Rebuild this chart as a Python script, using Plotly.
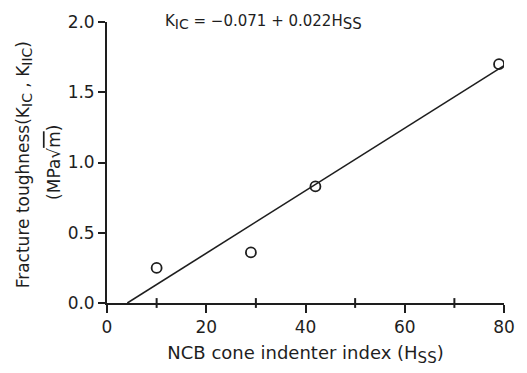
import plotly.graph_objects as go

# data
hss = [10, 29, 42, 79]
kic = [0.25, 0.36, 0.83, 1.70]
fit_x = [4.1, 80]
fit_y = [0.0, 1.69]

x_tickvals = [0, 20, 40, 60, 80]
x_minorvals = [10, 30, 50, 70]
y_ticklabels = ["0.0", "0.5", "1.0", "1.5", "2.0"]
y_tickvals = [0.0, 0.5, 1.0, 1.5, 2.0]

FONT = "DejaVu Sans, sans-serif"
INK = "#1e1e1e"

def sub(t, size):
    return "<sub><span style='font-size:%dpx'>%s</span></sub>" % (size, t)

fig = go.Figure()
fig.add_trace(go.Scatter(x=fit_x, y=fit_y, mode="lines",
                         line=dict(color=INK, width=1.6), showlegend=False))
fig.add_trace(go.Scatter(x=hss, y=kic, mode="markers",
                         marker=dict(symbol="circle-open", size=10, color=INK,
                                     line=dict(color=INK, width=1.8)),
                         showlegend=False))
# minor x ticks
fig.add_trace(go.Scatter(x=x_minorvals, y=[0] * len(x_minorvals), mode="markers",
                         cliponaxis=False, hoverinfo="skip",
                         marker=dict(symbol="line-ns-open", size=7, color=INK,
                                     line=dict(color=INK, width=2)),
                         showlegend=False))

fig.add_annotation(x=11.3, y=2.0, xref="x", yref="y", xanchor="left", yanchor="middle",
                   showarrow=False,
                   text="K" + sub("IC", 14) + " = \u22120.071 + 0.022H" + sub("SS", 15),
                   font=dict(family=FONT, size=15, color=INK))

fig.add_annotation(x=-0.209, y=0.49, xref="paper", yref="paper", xanchor="center",
                   yanchor="middle", textangle=-90, showarrow=False,
                   text="Fracture toughness(K" + sub("IC", 14) + " , K" + sub("IIC", 14) + ")",
                   font=dict(family=FONT, size=17, color=INK))
fig.add_annotation(x=-0.135, y=0.5, xref="paper", yref="paper", xanchor="center",
                   yanchor="middle", textangle=-90, showarrow=False,
                   text="(MPa\u221a<span style='text-decoration:overline'>m</span>)",
                   font=dict(family=FONT, size=17, color=INK))

fig.update_layout(
    width=527, height=373,
    margin=dict(l=107, r=13, t=15, b=70),
    paper_bgcolor="white", plot_bgcolor="white",
    font=dict(family=FONT, size=17, color=INK),
    xaxis=dict(range=[0, 80], tickvals=x_tickvals, ticks="outside", ticklen=8,
               tickwidth=1.6, tickcolor=INK,
               showline=True, linecolor=INK, linewidth=1.8,
               showgrid=False, zeroline=False,
               title=dict(text="NCB cone indenter index (H" + sub("SS", 15) + ")",
                          font=dict(size=18), standoff=10),
               tickfont=dict(size=17)),
    yaxis=dict(range=[0, 2.0], tickvals=y_tickvals, ticktext=y_ticklabels,
               ticks="outside", ticklen=7, tickwidth=1.6, tickcolor=INK,
               showline=True, linecolor=INK, linewidth=1.8,
               showgrid=False, zeroline=False,
               tickfont=dict(size=17)),
)

fig.write_html("out.html")
